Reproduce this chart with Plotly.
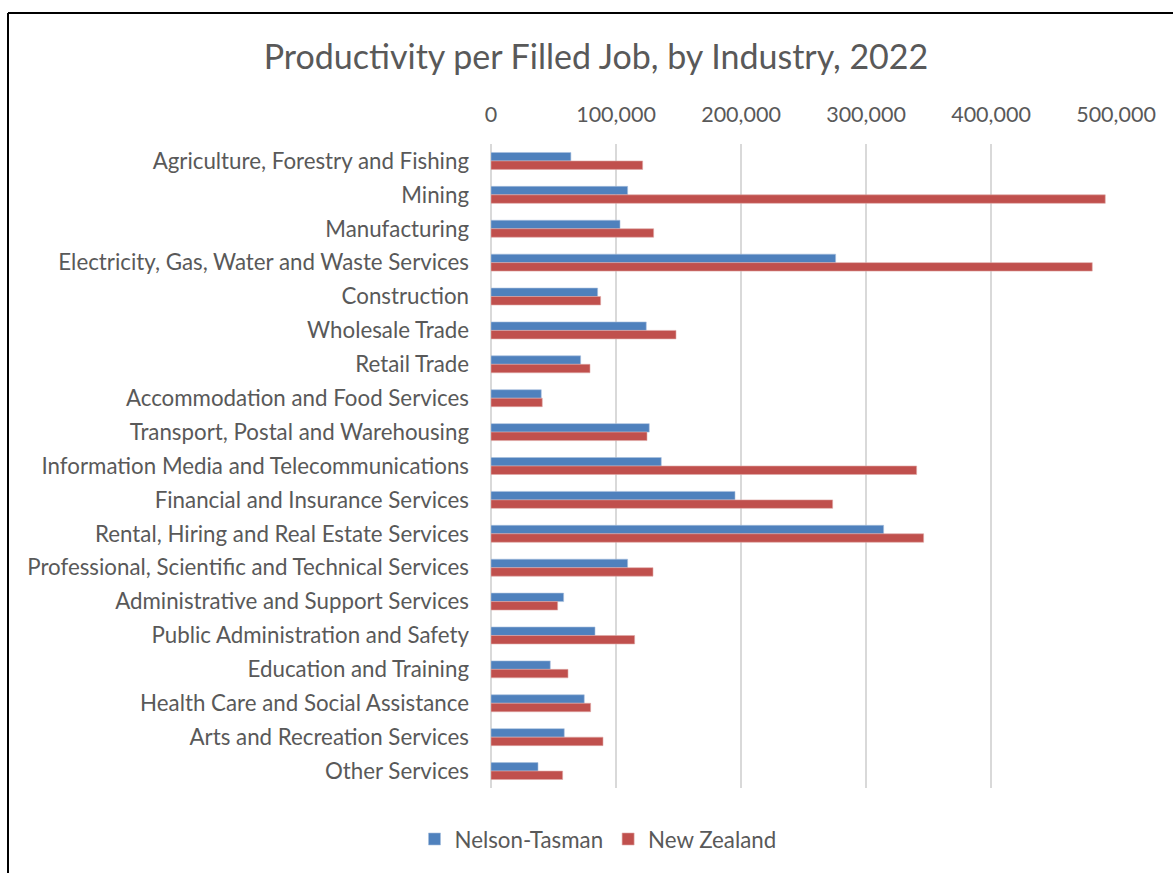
import plotly.graph_objects as go

industries = [
    "Agriculture, Forestry and Fishing",
    "Mining",
    "Manufacturing",
    "Electricity, Gas, Water and Waste Services",
    "Construction",
    "Wholesale Trade",
    "Retail Trade",
    "Accommodation and Food Services",
    "Transport, Postal and Warehousing",
    "Information Media and Telecommunications",
    "Financial and Insurance Services",
    "Rental, Hiring and Real Estate Services",
    "Professional, Scientific and Technical Services",
    "Administrative and Support Services",
    "Public Administration and Safety",
    "Education and Training",
    "Health Care and Social Assistance",
    "Arts and Recreation Services",
    "Other Services",
]
nelson_tasman = [63900, 109300, 103200, 275700, 85300, 124200, 71700, 40200, 126600,
                 136200, 195200, 314100, 109300, 58100, 83200, 47400, 74600, 58600, 37600]
new_zealand = [121300, 491400, 130100, 481000, 87700, 148000, 79200, 41000, 124800,
               340500, 273300, 346100, 129600, 53300, 114900, 61600, 79700, 89600, 57300]
x_ticks = [0, 100000, 200000, 300000, 400000, 500000]

W, H = 1173, 873
L, R, T, B = 491, 57, 144, 85
FONT = "Lato, Carlito, Calibri, sans-serif"
GREY = "#595959"

fig = go.Figure()
fig.add_trace(go.Bar(y=industries, x=nelson_tasman, name="Nelson-Tasman", orientation="h",
                     marker=dict(color="#4F81BD", line=dict(color="#A7C0DE", width=0.6))))
fig.add_trace(go.Bar(y=industries, x=new_zealand, name="New Zealand", orientation="h",
                     marker=dict(color="#C0504D", line=dict(color="#DFA7A6", width=0.6))))

pw = W - L - R
ph = H - T - B
def px_x(p):
    return (p - L) / pw
def px_y(p):
    return 1 - (p - T) / ph

# chart frame (left and top edges visible)
fig.add_shape(type="line", xref="paper", yref="paper", x0=px_x(8), x1=px_x(1180),
              y0=px_y(13), y1=px_y(13), line=dict(color="black", width=2))
fig.add_shape(type="line", xref="paper", yref="paper", x0=px_x(8), x1=px_x(8),
              y0=px_y(13), y1=px_y(880), line=dict(color="black", width=2))

fig.update_layout(
    width=W, height=H,
    margin=dict(l=L, r=R, t=T, b=B),
    paper_bgcolor="white", plot_bgcolor="white",
    font=dict(family=FONT, color=GREY, size=22),
    title=dict(text="Productivity per Filled Job, by Industry, 2022",
               x=596 / W, xref="container", xanchor="center",
               y=1 - 57 / H, yref="container", yanchor="middle",
               font=dict(size=34, color=GREY, family=FONT)),
    barmode="group", bargap=0.5, bargroupgap=0,
    xaxis=dict(side="top", range=[0, 500000], tickvals=x_ticks,
               ticktext=[f"{v:,}" for v in x_ticks],
               showgrid=True, gridcolor="#D9D9D9", gridwidth=1.5,
               zeroline=True, zerolinecolor="#D9D9D9", zerolinewidth=1.5,
               showline=False, ticks="", ticklabelstandoff=17,
               tickfont=dict(size=21.5, color=GREY)),
    yaxis=dict(autorange="reversed", showgrid=False, showline=False, ticks="",
               ticklabelstandoff=21, tickfont=dict(size=22.3, color=GREY)),
    legend=dict(orientation="h", x=598 / W, xref="container", xanchor="center",
                y=1 - 839 / H, yref="container", yanchor="middle",
                font=dict(size=22.3, color=GREY), traceorder="normal",
                itemwidth=30),
)

fig.write_html("out.html")
